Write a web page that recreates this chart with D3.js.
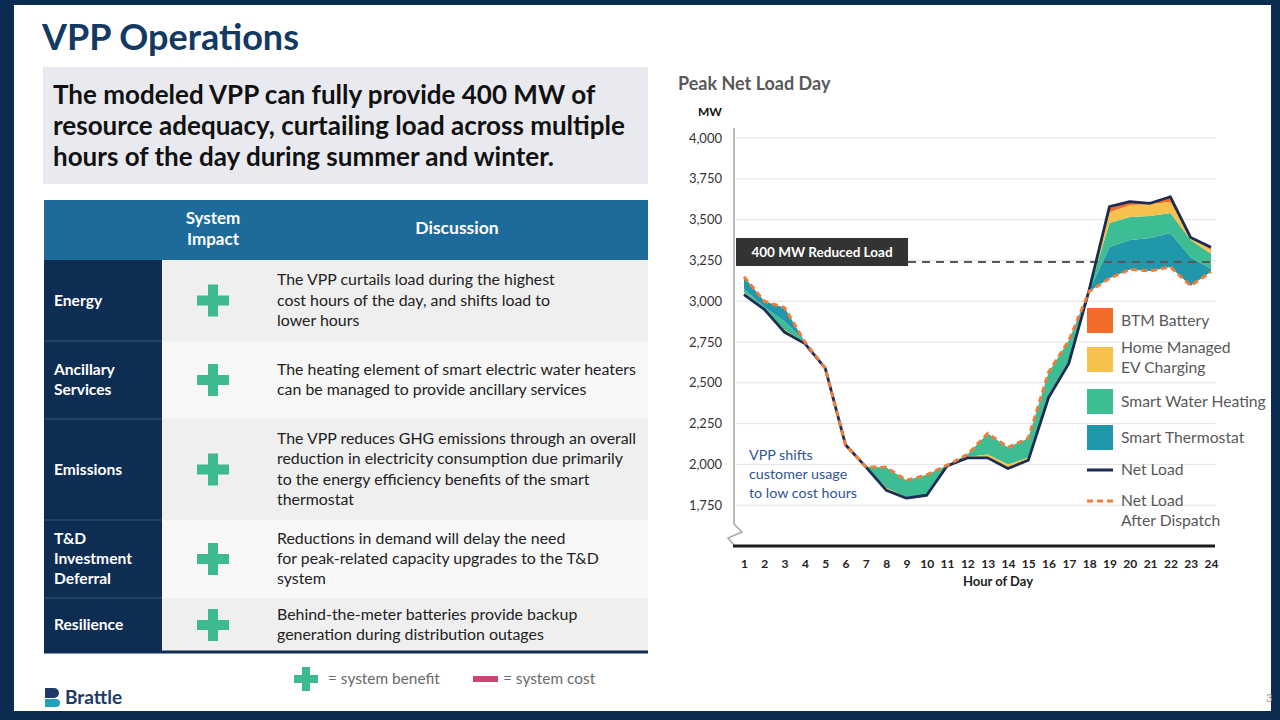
<!DOCTYPE html>
<html><head><meta charset="utf-8">
<script src="https://cdn.jsdelivr.net/npm/d3@7"></script>
<style>
html,body{margin:0;padding:0;background:#0b2c50;}
svg{display:block;font-family:Lato,"Open Sans",sans-serif;}
</style></head>
<body>
<svg id="c" width="1280" height="720"></svg>
<script>
// ---------- DATA ----------
const hours = [1,2,3,4,5,6,7,8,9,10,11,12,13,14,15,16,17,18,19,20,21,22,23,24];
const netLoad =        [3040,2950,2810,2740,2590,2120,1985,1842,1793,1811,1990,2040,2040,1975,2025,2410,2620,3070,3580,3610,3600,3640,3390,3330];
const netLoadAfterDispatch = [3150,3000,2960,2750,2590,2120,1985,1982,1903,1936,1995,2060,2190,2105,2160,2565,2760,3060,3140,3195,3185,3210,3095,3180];
// MW reduced by each resource (negative = load shifted into the hour)
const smartThermostat = [-75,-35,-85,0,0,0,0,0,0,0,0,0,0,0,0,0,0,5,192,180,202,208,175,20];
const smartWaterHeating=[-20,-10,-50,-5,0,0,0,-125,-105,-125,-5,-15,-130,-105,-120,-140,-125,5,147,141,135,122,105,90];
const evCharging =      [-15,-5,-15,-5,0,0,0,-15,-5,0,0,-5,-15,-20,-15,-15,-15,0,66,74,73,68,10,25];
const btmBattery =      [0,0,0,0,0,0,0,0,0,0,0,0,-5,-5,0,0,0,0,25,20,5,32,5,15];
const yTicks = [1750,2000,2250,2500,2750,3000,3250,3500,3750,4000];
const reducedLoadLevel = 3240;
const seriesNames = ["Smart Thermostat","Smart Water Heating","Home Managed EV Charging","BTM Battery"];
const tableRows = [
  {name:["Energy"], text:["The VPP curtails load during the highest","cost hours of the day, and shifts load to","lower hours"]},
  {name:["Ancillary","Services"], text:["The heating element of smart electric water heaters","can be managed to provide ancillary services"]},
  {name:["Emissions"], text:["The VPP reduces GHG emissions through an overall","reduction in electricity consumption due primarily","to the energy efficiency benefits of the smart","thermostat"]},
  {name:["T&D","Investment","Deferral"], text:["Reductions in demand will delay the need","for peak-related capacity upgrades to the T&D","system"]},
  {name:["Resilience"], text:["Behind-the-meter batteries provide backup","generation during distribution outages"]}
];

// ---------- SLIDE ----------
const svg = d3.select("#c");
svg.append("rect").attr("width",1280).attr("height",720).attr("fill","#0b2c50");
svg.append("rect").attr("x",14).attr("y",5).attr("width",1257).attr("height",706).attr("fill","#ffffff");

svg.append("text").attr("x",42).attr("y",50).attr("font-size",36).attr("font-weight",700)
  .attr("fill","#123a63").text("VPP Operations");

svg.append("rect").attr("x",43).attr("y",67).attr("width",605).attr("height",117).attr("fill","#e8eaef");
const head = ["The modeled VPP can fully provide 400 MW of","resource adequacy, curtailing load across multiple","hours of the day during summer and winter."];
head.forEach((t,i)=>svg.append("text").attr("x",53).attr("y",104+i*31).attr("font-size",26)
  .attr("font-weight",700).attr("fill","#111").text(t));

// table
const tx0=44, tx1=648;
svg.append("rect").attr("x",tx0).attr("y",200).attr("width",tx1-tx0).attr("height",60).attr("fill","#1c6b9b");
svg.append("text").attr("x",213).attr("y",224).attr("text-anchor","middle").attr("fill","#fff").attr("font-size",17).attr("font-weight",700).text("System");
svg.append("text").attr("x",213).attr("y",245).attr("text-anchor","middle").attr("fill","#fff").attr("font-size",17).attr("font-weight",700).text("Impact");
svg.append("text").attr("x",457).attr("y",234).attr("text-anchor","middle").attr("fill","#fff").attr("font-size",17.5).attr("font-weight",700).text("Discussion");
const rowB = [260,341,419,520,598,652];
const rowFill = ["#efefef","#f7f7f7","#efefef","#f7f7f7","#efefef"];
tableRows.forEach((r,i)=>{
  const y0=rowB[i], y1=rowB[i+1], cy=(y0+y1)/2;
  svg.append("rect").attr("x",162).attr("y",y0).attr("width",tx1-162).attr("height",y1-y0).attr("fill",rowFill[i]);
  svg.append("rect").attr("x",tx0).attr("y",y0).attr("width",118).attr("height",y1-y0).attr("fill","#0d2d52");
  if(i>0) svg.append("line").attr("x1",tx0).attr("x2",162).attr("y1",y0).attr("y2",y0).attr("stroke","#2a4a70").attr("stroke-width",1.5);
  r.name.forEach((n,j)=>svg.append("text").attr("x",54).attr("y",cy+5+(j-(r.name.length-1)/2)*20)
    .attr("fill","#fff").attr("font-size",15.6).attr("font-weight",700).text(n));
  r.text.forEach((n,j)=>svg.append("text").attr("x",277).attr("y",cy+5+(j-(r.text.length-1)/2)*20.3)
    .attr("fill","#222").attr("font-size",15.9).text(n));
  // plus
  svg.append("rect").attr("x",213-16).attr("y",cy-5).attr("width",32).attr("height",10).attr("fill","#3dbb8f");
  svg.append("rect").attr("x",213-5).attr("y",cy-16).attr("width",10).attr("height",32).attr("fill","#3dbb8f");
});
svg.append("line").attr("x1",tx0).attr("x2",tx1).attr("y1",652).attr("y2",652).attr("stroke","#0d2d52").attr("stroke-width",3);

// bottom legend
svg.append("rect").attr("x",306-12).attr("y",679-4).attr("width",24).attr("height",8).attr("fill","#3dbb8f");
svg.append("rect").attr("x",306-4).attr("y",679-12).attr("width",8).attr("height",24).attr("fill","#3dbb8f");
svg.append("text").attr("x",328).attr("y",684).attr("font-size",15.4).attr("fill","#6b6b6b").text("= system benefit");
svg.append("rect").attr("x",473).attr("y",676).attr("width",25).attr("height",6).attr("fill","#d0436f");
svg.append("text").attr("x",503).attr("y",684).attr("font-size",15.4).attr("fill","#6b6b6b").text("= system cost");

// Brattle logo
svg.append("path").attr("d","M45,688 h9 a5,5 0 0 1 0,10 h-9 z").attr("fill","#1f3a68");
svg.append("path").attr("d","M45,699 h11 a4,4 0 0 1 0,8 h-11 z").attr("fill","#22a1b8");
svg.append("text").attr("x",65).attr("y",704).attr("font-size",19).attr("font-weight",700).attr("fill","#1f3a68").text("Brattle");

// ---------- CHART ----------
const x = d3.scaleLinear().domain([1,24]).range([744,1211]);
const y = d3.scaleLinear().domain([1500,4000]).range([546,138]);

svg.append("text").attr("x",678).attr("y",90).attr("font-size",18).attr("font-weight",700).attr("fill","#595959").text("Peak Net Load Day");
svg.append("text").attr("x",710).attr("y",116).attr("text-anchor","middle").attr("font-size",12).attr("font-weight",700).attr("fill","#111").text("MW");

// grid
svg.append("g").selectAll("line").data(yTicks).join("line")
  .attr("x1",736).attr("x2",1216).attr("y1",d=>y(d)).attr("y2",d=>y(d))
  .attr("stroke","#e3e3e3").attr("stroke-width",1);

// y axis
const yAxis = d3.axisLeft(y).tickValues(yTicks).tickFormat(d3.format(",")).tickSize(0).tickPadding(12);
const gy = svg.append("g").attr("transform","translate(734,0)").call(yAxis);
gy.select(".domain").remove();
gy.selectAll("text").attr("font-size",13).attr("fill","#333").attr("font-family","Lato,'Open Sans',sans-serif");
svg.append("path").attr("d",`M734,128 V524 L742,532 L728,538 L734,545`).attr("fill","none").attr("stroke","#a6a6a6").attr("stroke-width",1.5);

// x axis
const xAxis = d3.axisBottom(x).tickValues(hours).tickSize(0).tickPadding(13).tickFormat(d3.format("d"));
const gx = svg.append("g").attr("transform","translate(0,546)").call(xAxis);
gx.select(".domain").remove();
gx.selectAll("text").attr("font-size",12).attr("font-weight",700).attr("fill","#222").attr("font-family","Lato,'Open Sans',sans-serif");
svg.append("line").attr("x1",733).attr("x2",1215).attr("y1",546).attr("y2",546).attr("stroke","#1a1a1a").attr("stroke-width",3);
svg.append("text").attr("x",998).attr("y",586).attr("text-anchor","middle").attr("font-size",13).attr("font-weight",700).attr("fill","#222").text("Hour of Day");

// stacked resource areas from the after-dispatch line
const comps = [smartThermostat, smartWaterHeating, evCharging, btmBattery];
const colors = ["#2097ab","#3cbd93","#f6c14c","#f26b2b"];
const layers = comps.map(()=>[]);
hours.forEach((h,i)=>{
  let cum = netLoadAfterDispatch[i];
  comps.forEach((c,k)=>{ layers[k].push({h, y0:cum, y1:cum+c[i]}); cum += c[i]; });
});
const area = d3.area().x(d=>x(d.h)).y0(d=>y(d.y0)).y1(d=>y(d.y1));
svg.append("g").selectAll("path").data(layers).join("path")
  .attr("d",area).attr("fill",(d,k)=>colors[k]);

// reduced load reference
svg.append("line").attr("x1",908).attr("x2",1214).attr("y1",y(reducedLoadLevel)).attr("y2",y(reducedLoadLevel))
  .attr("stroke","#595959").attr("stroke-width",2).attr("stroke-dasharray","8,6");
svg.append("rect").attr("x",736).attr("y",238).attr("width",172).attr("height",28).attr("fill","#333333");
svg.append("text").attr("x",822).attr("y",257).attr("text-anchor","middle").attr("font-size",13.5).attr("font-weight",700).attr("fill","#fff").text("400 MW Reduced Load");

const line = d3.line().x((d,i)=>x(hours[i])).y(d=>y(d));
svg.append("path").attr("d",line(netLoad)).attr("fill","none").attr("stroke","#1b2d55").attr("stroke-width",2.8).attr("stroke-linejoin","round");
svg.append("path").attr("d",line(netLoadAfterDispatch)).attr("fill","none").attr("stroke","#ef7d3a").attr("stroke-width",3).attr("stroke-dasharray","6,4");

// annotation
["VPP shifts","customer usage","to low cost hours"].forEach((t,i)=>svg.append("text").attr("x",749).attr("y",460+i*19)
  .attr("font-size",14.3).attr("fill","#2f5597").text(t));

// legend
const lg = svg.append("g");
const legItems = [
  {c:"#f26b2b", y:308, lab:["BTM Battery"]},
  {c:"#f6c14c", y:347, lab:["Home Managed","EV Charging"]},
  {c:"#3cbd93", y:389, lab:["Smart Water Heating"]},
  {c:"#2097ab", y:425, lab:["Smart Thermostat"]}
];
legItems.forEach(d=>{
  lg.append("rect").attr("x",1087).attr("y",d.y).attr("width",26).attr("height",25).attr("fill",d.c);
  d.lab.forEach((t,j)=>lg.append("text").attr("x",1121).attr("y",d.y+18+(j-(d.lab.length-1)/2)*20+(d.lab.length>1?-2:0))
    .attr("font-size",15.7).attr("fill","#595959").text(t));
});
lg.append("line").attr("x1",1087).attr("x2",1113).attr("y1",470).attr("y2",470).attr("stroke","#1b2d55").attr("stroke-width",3);
lg.append("text").attr("x",1121).attr("y",475).attr("font-size",15.7).attr("fill","#595959").text("Net Load");
lg.append("line").attr("x1",1087).attr("x2",1113).attr("y1",501).attr("y2",501).attr("stroke","#ef7d3a").attr("stroke-width",3).attr("stroke-dasharray","6,4");
lg.append("text").attr("x",1121).attr("y",506).attr("font-size",15.7).attr("fill","#595959").text("Net Load");
lg.append("text").attr("x",1121).attr("y",526).attr("font-size",15.7).attr("fill","#595959").text("After Dispatch");

svg.append("text").attr("x",1266).attr("y",702).attr("font-size",11).attr("fill","#999").text("3");
</script>
</body></html>
